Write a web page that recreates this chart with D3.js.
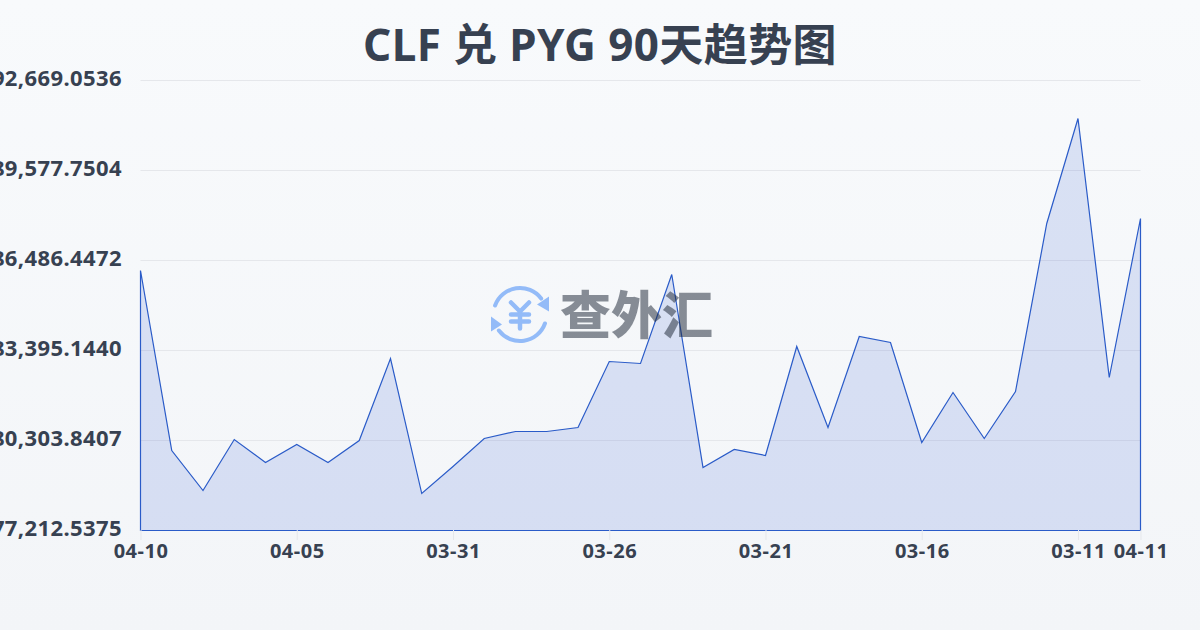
<!DOCTYPE html>
<html>
<head>
<meta charset="utf-8">
<script src="https://cdn.jsdelivr.net/npm/d3@7"></script>
<style>
  html, body { margin: 0; padding: 0; }
  body { width: 1200px; height: 630px; overflow: hidden; }
  text { font-family: "Noto Sans", "Noto Sans CJK SC", sans-serif; }
</style>
</head>
<body>
<div id="app"></div>
<script>
const categories = ["04-10","04-09","04-08","04-07","04-06","04-05","04-04","04-03","04-02","04-01",
  "03-31","03-30","03-29","03-28","03-27","03-26","03-25","03-24","03-23","03-22",
  "03-21","03-20","03-19","03-18","03-17","03-16","03-15","03-14","03-13","03-12",
  "03-11","03-10","04-11"];
const rates = [286143,279960,278586,280338,279548,280166,279548,280304,283120,278483,
  279411,280373,280613,280613,280750,283017,282949,286006,279376,279995,
  279789,283533,280750,283876,283670,280235,281953,280373,281987,287757,
  291364,282468,287929];
const yTicks = [277212.5375,280303.8407,283395.1440,286486.4472,289577.7504,292669.0536];
const xLabels = ["04-10","04-05","03-31","03-26","03-21","03-16","03-11","04-11"];
const titleText = "CLF 兑 PYG 90天趋势图";
const watermarkText = "查外汇";

const width = 1200,
  height = 630,
  margin = { top: 80, right: 59.5, bottom: 100, left: 140.5 };

const xScale = d3.scalePoint().domain(categories).range([margin.left, width - margin.right]);
const yScale = d3.scaleLinear().domain([yTicks[0], yTicks[5]]).range([height - margin.bottom, margin.top]);

const svg = d3.select("#app").append("svg")
  .attr("width", width)
  .attr("height", height)
  .style("display", "block");

const defs = svg.append("defs");
const bg = defs.append("linearGradient").attr("id", "bg").attr("x1", 0).attr("y1", 0).attr("x2", 0).attr("y2", 1);
bg.append("stop").attr("offset", "0%").attr("stop-color", "#f8fafc");
bg.append("stop").attr("offset", "100%").attr("stop-color", "#f3f5f8");

svg.append("rect").attr("width", width).attr("height", height).attr("fill", "url(#bg)");

svg.append("text")
  .attr("x", width / 2)
  .attr("y", 61)
  .attr("text-anchor", "middle")
  .attr("font-size", 44)
  .attr("font-weight", 700)
  .attr("letter-spacing", 0.4)
  .attr("fill", "#374151")
  .text(titleText);

// y axis, tick lines stretched across as the grid
svg.append("g")
  .attr("transform", `translate(${margin.left},0)`)
  .call(d3.axisLeft(yScale)
    .tickValues(yTicks)
    .tickFormat(d3.format(",.4f"))
    .tickSize(-(width - margin.left - margin.right))
    .tickPadding(18.5))
  .call((g) => g.select(".domain").remove())
  .call((g) => g.selectAll("line").attr("stroke", "#e5e7eb"))
  .call((g) => g.selectAll("text")
    .attr("y", -2)
    .attr("font-size", 22)
    .attr("font-weight", 700)
    .attr("letter-spacing", 0.4)
    .attr("fill", "#374151"));

// area with its outline closed along the left and bottom edges
const area = d3.area()
  .x((d, i) => xScale(categories[i]))
  .y0(yScale(yTicks[0]))
  .y1((d) => yScale(d));

svg.append("path")
  .datum(rates)
  .attr("transform", "translate(0,0.5)") // same half pixel the axis lines get
  .attr("d", area)
  .attr("fill", "rgba(46,88,206,0.15)")
  .attr("stroke", "#2a5bc8")
  .attr("stroke-width", 1.2);

svg.append("g")
  .attr("transform", `translate(0,${height - margin.bottom})`)
  .call(d3.axisBottom(xScale)
    .tickValues(xLabels)
    .tickSize(10)
    .tickPadding(4))
  .call((g) => g.select(".domain").remove())
  .call((g) => g.selectAll("line").attr("stroke", "#e5e7eb"))
  .call((g) => g.selectAll("text")
    .attr("font-size", 20)
    .attr("font-weight", 700)
    .attr("letter-spacing", 0.5)
    .attr("fill", "#374151"));

// watermark sits over the chart
const mark = svg.append("g").attr("transform", "translate(520,314.5)");
const ring = d3.arc().innerRadius(24.5).outerRadius(28.5).cornerRadius(2);
const logoBlue = "#93bbf8";
mark.append("path").attr("d", ring({ startAngle: -1.3, endAngle: 1.0 })).attr("fill", logoBlue);
mark.append("path").attr("d", ring({ startAngle: 1.84, endAngle: 4.14 })).attr("fill", logoBlue);
mark.append("path").attr("d", "M29 -18 L29 -3 L17 -10 Z").attr("fill", logoBlue);
mark.append("path").attr("d", "M-29 2 L-29 17 L-18 10 Z").attr("fill", logoBlue);
mark.append("path")
  .attr("d", "M-9 -12 L0 -3 L9 -12 M-9 0 H9 M-9 7 H9 M0 -3 V14")
  .attr("fill", "none")
  .attr("stroke", logoBlue)
  .attr("stroke-width", 4.5)
  .attr("stroke-linecap", "round")
  .attr("stroke-linejoin", "round");

svg.append("text")
  .attr("x", 560)
  .attr("y", 334)
  .attr("font-size", 51)
  .attr("font-weight", 900)
  .attr("fill", "#1f2937")
  .attr("fill-opacity", 0.52)
  .style("font-family", '"Noto Sans CJK SC", sans-serif')
  .text(watermarkText);
</script>
</body>
</html>
